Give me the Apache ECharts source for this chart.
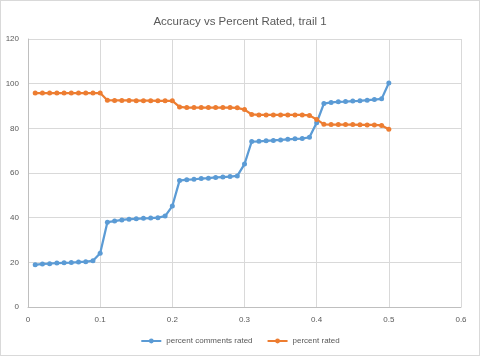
<!DOCTYPE html>
<html><head><meta charset="utf-8">
<script src="https://cdn.jsdelivr.net/npm/echarts@6/dist/echarts.min.js"></script>
<style>html,body{margin:0;padding:0;background:#fff}#c{width:480px;height:356px;box-sizing:border-box;border:1px solid #d9d9d9}</style>
</head><body><div id="c"></div>
<script>
var xValues = [0.01,0.02,0.03,0.04,0.05,0.06,0.07,0.08,0.09,0.10,
  0.11,0.12,0.13,0.14,0.15,0.16,0.17,0.18,0.19,0.20,
  0.21,0.22,0.23,0.24,0.25,0.26,0.27,0.28,0.29,0.30,
  0.31,0.32,0.33,0.34,0.35,0.36,0.37,0.38,0.39,0.40,
  0.41,0.42,0.43,0.44,0.45,0.46,0.47,0.48,0.49,0.50];
var commentsRated = [18.9,19.3,19.4,19.7,19.8,19.9,20.1,20.3,20.7,24.1,
  38.0,38.5,39.0,39.3,39.5,39.7,39.8,40.0,40.7,45.2,
  56.6,57.0,57.2,57.5,57.7,58.0,58.2,58.4,58.7,64.0,
  74.1,74.2,74.4,74.6,74.8,75.1,75.3,75.4,76.0,82.5,
  91.1,91.6,91.9,92.0,92.2,92.3,92.6,92.9,93.2,100.3];
var percentRated = [95.8,95.8,95.8,95.8,95.8,95.8,95.8,95.8,95.8,95.8,
  92.6,92.5,92.5,92.5,92.4,92.4,92.4,92.3,92.3,92.3,
  89.6,89.3,89.3,89.3,89.3,89.3,89.3,89.3,89.2,88.4,
  86.2,86.0,86.0,86.0,86.0,86.0,86.0,86.0,85.8,84.0,
  81.8,81.7,81.7,81.7,81.7,81.6,81.5,81.5,81.3,79.6];
var seriesNames = ['percent comments rated','percent rated'];
var titleText = 'Accuracy vs Percent Rated, trail 1';

function pairs(ys){return xValues.map(function(x,i){return [x,ys[i]];});}
var chart = echarts.init(document.getElementById('c'));
var lbl = {color:'#595959',fontSize:8,fontFamily:'Liberation Sans, Arial, sans-serif'};
chart.setOption({
  animation:false,
  title:{text:titleText,left:'center',top:10,textStyle:{color:'#595959',fontSize:11.5,fontWeight:'normal',fontFamily:'Liberation Sans, Arial, sans-serif'}},
  grid:{left:27,right:18,top:38,bottom:48},
  legend:{bottom:5,left:'center',itemWidth:20,itemHeight:6,itemGap:14,textStyle:lbl,data:seriesNames},
  xAxis:{type:'value',min:0,max:0.6,interval:0.1,
    axisLine:{lineStyle:{color:'#bfbfbf'}},axisTick:{show:false},
    axisLabel:Object.assign({margin:9},lbl),
    splitLine:{lineStyle:{color:'#d9d9d9'}}},
  yAxis:{type:'value',min:0,max:120,interval:20,
    axisLine:{show:true,lineStyle:{color:'#bfbfbf'}},axisTick:{show:false},
    axisLabel:Object.assign({margin:9},lbl),
    splitLine:{lineStyle:{color:'#d9d9d9'}}},
  series:[
    {name:seriesNames[0],type:'line',data:pairs(commentsRated),symbol:'circle',symbolSize:5,
     itemStyle:{color:'#5B9BD5'},lineStyle:{width:2.25,color:'#5B9BD5'}},
    {name:seriesNames[1],type:'line',data:pairs(percentRated),symbol:'circle',symbolSize:5,
     itemStyle:{color:'#ED7D31'},lineStyle:{width:2.25,color:'#ED7D31'}}
  ]
});
</script></body></html>
